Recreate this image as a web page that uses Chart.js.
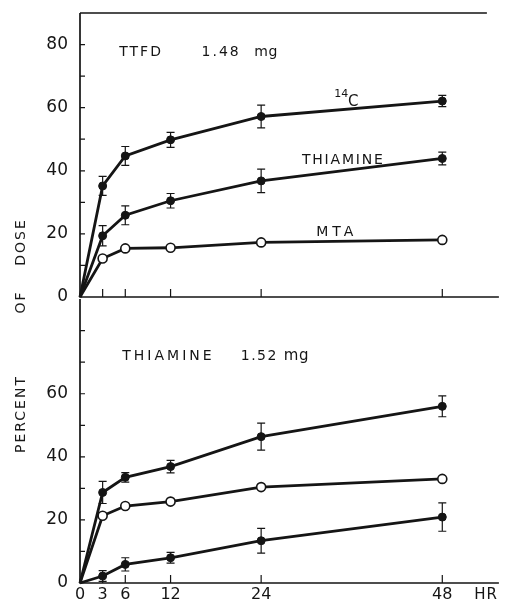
<!DOCTYPE html>
<html>
<head>
<meta charset="utf-8">
<title>Percent of dose</title>
<script src="https://cdn.jsdelivr.net/npm/chart.js@4.4.1/dist/chart.umd.min.js"></script>
<style>
  html, body { margin: 0; padding: 0; background: #fff; }
  #figure { position: relative; width: 505px; height: 605px; overflow: hidden; }
  #topBox { position: absolute; left: 0; top: 0; width: 505px; height: 310px; }
  #bottomBox { position: absolute; left: 0; top: 293px; width: 505px; height: 312px; }
  .ytitle {
    position: absolute; left: 20px;
    font: 14px "DejaVu Sans", sans-serif; color: #1a1a1a;
    letter-spacing: 2px; white-space: nowrap;
    transform: translate(-50%, -50%) rotate(-90deg);
  }
</style>
</head>
<body>
<div id="figure">
  <div id="bottomBox"><canvas id="bottomChart"></canvas></div>
  <div id="topBox"><canvas id="topChart"></canvas></div>
  <div class="ytitle" style="top:242px">DOSE</div>
  <div class="ytitle" style="top:302px">OF</div>
  <div class="ytitle" style="top:414px">PERCENT</div>
</div>

<script>
// sampling times (hours)
const hours = [0, 3, 6, 12, 24, 48];
const hourTicks = [0, 3, 6, 12, 24, 48];

// TTFD 1.48 mg
const ttfdC14 = [0, 35.2, 44.7, 49.8, 57.2, 62.1];
const ttfdC14Err = [0, 3.0, 3.0, 2.4, 3.6, 1.8];
const ttfdThiamine = [0, 19.4, 25.9, 30.5, 36.8, 43.9];
const ttfdThiamineErr = [0, 3.2, 3.0, 2.3, 3.7, 2.0];
const ttfdMta = [0, 12.2, 15.4, 15.6, 17.3, 18.1];

// Thiamine 1.52 mg
const thC14 = [0, 28.7, 33.5, 36.9, 46.4, 56.0];
const thC14Err = [0, 3.5, 1.5, 2.0, 4.3, 3.3];
const thMta = [0, 21.3, 24.4, 25.8, 30.4, 33.0];
const thThiamine = [0, 2.2, 5.9, 8.0, 13.4, 20.9];
const thThiamineErr = [0, 1.7, 2.1, 1.7, 3.9, 4.5];

const ink = '#151515';
const tickFont = { family: 'DejaVu Sans', size: 17 };

function series(values, errors, open) {
  return {
    data: hours.map((h, i) => ({ x: h, y: values[i] })),
    errors: errors,
    borderColor: ink,
    borderWidth: 2.8,
    pointRadius: hours.map(h => h === 0 ? 0 : (open ? 4.5 : 4)),
    pointBackgroundColor: open ? '#fff' : ink,
    pointBorderColor: ink,
    pointBorderWidth: open ? 1.6 : 1,
    tension: 0,
    clip: false
  };
}

// axes frame, inward tick marks, error bars and the in-plot captions
function panelPlugin(opts) {
  return {
    id: 'panel',
    beforeDatasetsDraw(chart) {
      const ctx = chart.ctx;
      const a = chart.chartArea;
      const xs = chart.scales.x, ys = chart.scales.y;
      ctx.save();
      ctx.strokeStyle = ink;
      ctx.lineWidth = 1.7;
      ctx.beginPath();
      ctx.moveTo(a.left, a.top);
      ctx.lineTo(a.left, a.bottom);
      ctx.lineTo(a.right, a.bottom);
      if (opts.topRule) {
        ctx.moveTo(a.left, a.top);
        ctx.lineTo(a.right - 12, a.top);
      }
      ctx.stroke();
      ctx.lineWidth = 1.2;
      ctx.beginPath();
      for (let v = 10; v <= 80; v += 10) {
        const y = ys.getPixelForValue(v);
        ctx.moveTo(a.left, y);
        ctx.lineTo(a.left + 5, y);
      }
      hourTicks.filter(h => h > 0).forEach(h => {
        const x = xs.getPixelForValue(h);
        ctx.moveTo(x, a.bottom);
        ctx.lineTo(x, a.bottom - 8);
      });
      ctx.stroke();
      ctx.restore();
    },
    afterDatasetsDraw(chart) {
      const ctx = chart.ctx;
      const xs = chart.scales.x, ys = chart.scales.y;
      ctx.save();
      ctx.strokeStyle = ink;
      ctx.lineWidth = 1.2;
      chart.data.datasets.forEach(ds => {
        if (!ds.errors) return;
        ds.data.forEach((p, i) => {
          const e = ds.errors[i];
          if (!e) return;
          const x = xs.getPixelForValue(p.x);
          const y1 = ys.getPixelForValue(p.y + e);
          const y2 = ys.getPixelForValue(p.y - e);
          ctx.beginPath();
          ctx.moveTo(x, y1); ctx.lineTo(x, y2);
          ctx.moveTo(x - 4, y1); ctx.lineTo(x + 4, y1);
          ctx.moveTo(x - 4, y2); ctx.lineTo(x + 4, y2);
          ctx.stroke();
        });
      });
      ctx.fillStyle = ink;
      ctx.textBaseline = 'middle';
      ctx.textAlign = 'left';
      opts.captions.forEach(c => {
        ctx.font = (c.size || 14) + 'px "DejaVu Sans"';
        ctx.letterSpacing = (c.spacing || 0) + 'px';
        ctx.fillText(c.text, xs.getPixelForValue(c.x), ys.getPixelForValue(c.y));
      });
      if (opts.unit) {
        ctx.font = '15px "DejaVu Sans"';
        ctx.letterSpacing = '1px';
        ctx.textAlign = 'center';
        ctx.fillText(opts.unit, xs.getPixelForValue(53.8), chart.chartArea.bottom + 12);
      }
      ctx.restore();
    }
  };
}

function yScale(maxLabel) {
  return {
    type: 'linear',
    min: 0,
    max: 90,
    grid: { display: false, drawTicks: false },
    border: { display: false },
    ticks: {
      stepSize: 10,
      color: ink,
      font: tickFont,
      padding: 12,
      callback: v => (v % 20 === 0 && v <= maxLabel) ? String(v) : null
    },
    afterFit(s) { s.width = 80; s.paddingTop = 0; s.paddingBottom = 0; }
  };
}

const common = {
  responsive: true,
  maintainAspectRatio: false,
  animation: false,
  events: [],
  plugins: { legend: { display: false }, tooltip: { enabled: false } }
};

new Chart(document.getElementById('topChart'), {
  type: 'line',
  data: {
    datasets: [
      series(ttfdC14, ttfdC14Err, false),
      series(ttfdThiamine, ttfdThiamineErr, false),
      series(ttfdMta, null, true)
    ]
  },
  options: Object.assign({}, common, {
    layout: { padding: { top: 13, bottom: 13, left: 0, right: 0 } },
    scales: {
      x: { type: 'linear', min: 0, max: 55.5, display: false },
      y: yScale(80)
    }
  }),
  plugins: [panelPlugin({
    topRule: true,
    captions: [
      { text: 'TTFD', x: 5.2, y: 77.6, spacing: 2 },
      { text: '1.48', x: 16.1, y: 77.6, spacing: 2 },
      { text: 'mg', x: 23.1, y: 77.6, spacing: 0.5 },
      { text: '14', x: 33.7, y: 64.2, size: 11 },
      { text: 'C', x: 35.5, y: 61.8, size: 15 },
      { text: 'THIAMINE', x: 29.4, y: 43.4, spacing: 1.8 },
      { text: 'MTA', x: 31.3, y: 20.6, spacing: 4 }
    ]
  })]
});

new Chart(document.getElementById('bottomChart'), {
  type: 'line',
  data: {
    datasets: [
      series(thC14, thC14Err, false),
      series(thMta, null, true),
      series(thThiamine, thThiamineErr, false)
    ]
  },
  options: Object.assign({}, common, {
    layout: { padding: { top: 0, bottom: 0, left: 0, right: 0 } },
    scales: {
      x: {
        type: 'linear',
        min: 0,
        max: 55.5,
        grid: { display: false, drawTicks: false },
        border: { display: false },
        afterBuildTicks(s) { s.ticks = hourTicks.map(v => ({ value: v })); },
        ticks: { color: ink, font: { family: 'DejaVu Sans', size: 16 }, padding: 2, maxRotation: 0, autoSkip: false },
        afterFit(s) { s.height = 22; }
      },
      y: yScale(60)
    }
  }),
  plugins: [panelPlugin({
    topRule: false,
    unit: 'HR',
    captions: [
      { text: 'THIAMINE', x: 5.6, y: 72, spacing: 3 },
      { text: '1.52', x: 21.3, y: 72, spacing: 1.5 },
      { text: 'mg', x: 27, y: 72, size: 15, spacing: 0.5 }
    ]
  })]
});
</script>
</body>
</html>
